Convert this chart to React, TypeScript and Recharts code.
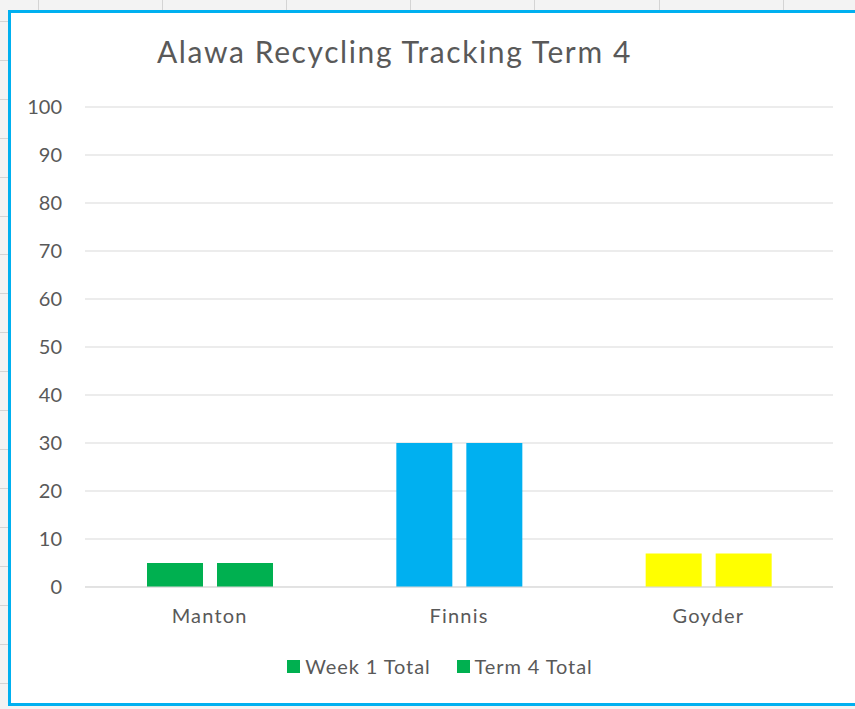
import React from "react";
import { BarChart, Bar, XAxis, YAxis, CartesianGrid, Legend, Cell } from "recharts";

// Alawa recycling
const schools = ["Manton", "Finnis", "Goyder"];
const week1Total = [5, 30, 7];
const term4Total = [5, 30, 7];
const schoolColors = ["#00B050", "#00B0F0", "#FFFF00"];
const yTicks = [0, 10, 20, 30, 40, 50, 60, 70, 80, 90, 100];
const seriesNames = ["Week 1 Total", "Term 4 Total"];

const data = schools.map((s, i) => ({
  school: s,
  week1: week1Total[i],
  term4: term4Total[i],
}));

const FONT = "Lato, 'Open Sans', sans-serif";
const TEXT = "#595959";

function LegendBox({ payload }: any) {
  // keep series order, not alphabetical
  const items = [...(payload || [])].sort(
    (a: any, b: any) => seriesNames.indexOf(a.value) - seriesNames.indexOf(b.value)
  );
  return (
    <div style={{ display: "flex", justifyContent: "center", fontFamily: FONT, fontSize: 20, letterSpacing: 0.9, color: TEXT }}>
      {items.map((p: any, i: number) => (
        <div key={i} style={{ display: "flex", alignItems: "center", marginRight: i === 0 ? 26 : 0 }}>
          <span style={{ display: "inline-block", width: 13, height: 13, background: p.color, marginRight: 5 }} />
          <span>{p.value}</span>
        </div>
      ))}
    </div>
  );
}

export default function App() {
  const cellTicksTop = [38, 162, 286, 410, 534, 659, 783];
  const cellTicksLeft = [21, 60, 99, 138, 177, 216, 254, 293, 332, 371, 410, 449, 488, 527, 566, 605, 644, 683];

  return (
    <div style={{ position: "absolute", left: 0, top: 0, width: 855, height: 709, overflow: "hidden", background: "#F3F3F3" }}>
      {/* spreadsheet cell borders peeking out round the chart */}
      {cellTicksTop.map((x) => (
        <div key={"t" + x} style={{ position: "absolute", left: x, top: 0, width: 1, height: 10, background: "#D4D4D4" }} />
      ))}
      {cellTicksLeft.map((y) => (
        <div key={"l" + y} style={{ position: "absolute", left: 0, top: y, width: 8, height: 1, background: "#D4D4D4" }} />
      ))}
      <div
        style={{
          position: "absolute",
          left: 8,
          top: 10,
          width: 900,
          height: 696,
          boxSizing: "border-box",
          border: "3px solid #00B0F0",
          background: "#fff",
        }}
      />
      <div
        style={{
          position: "absolute",
          left: 157,
          top: 36,
          fontFamily: FONT,
          fontWeight: 400,
          fontSize: 30,
          letterSpacing: 1.6,
          lineHeight: "30px",
          color: TEXT,
          whiteSpace: "nowrap",
        }}
      >
        Alawa Recycling Tracking Term 4
      </div>
      <div style={{ position: "absolute", left: 0, top: 0 }}>
        <BarChart
          width={855}
          height={709}
          data={data}
          margin={{ top: 107, right: 22, bottom: 82, left: 0 }}
          barSize={56}
          barGap={14}
        >
          <CartesianGrid vertical={false} stroke="#D9D9D9" />
          <XAxis
            dataKey="school"
            height={40}
            tickLine={false}
            axisLine={{ stroke: "#D9D9D9" }}
            tickMargin={16}
            tick={{ fontSize: 20, fill: TEXT, fontFamily: FONT, letterSpacing: 1.2 }}
          />
          <YAxis
            width={85}
            domain={[0, 100]}
            ticks={yTicks}
            interval={0}
            tickLine={false}
            axisLine={false}
            tickMargin={17}
            tick={{ fontSize: 20, fill: TEXT, fontFamily: FONT }}
          />
          <Legend
            layout="horizontal"
            verticalAlign="middle"
            align="center"
            wrapperStyle={{ top: 654, left: 0, width: 880, height: 26 }}
            content={<LegendBox />}
          />
          <Bar dataKey="week1" name={seriesNames[0]} fill={schoolColors[0]} isAnimationActive={false}>
            {data.map((d, i) => (
              <Cell key={d.school} fill={schoolColors[i]} />
            ))}
          </Bar>
          <Bar dataKey="term4" name={seriesNames[1]} fill={schoolColors[0]} isAnimationActive={false}>
            {data.map((d, i) => (
              <Cell key={d.school} fill={schoolColors[i]} />
            ))}
          </Bar>
        </BarChart>
      </div>
    </div>
  );
}
